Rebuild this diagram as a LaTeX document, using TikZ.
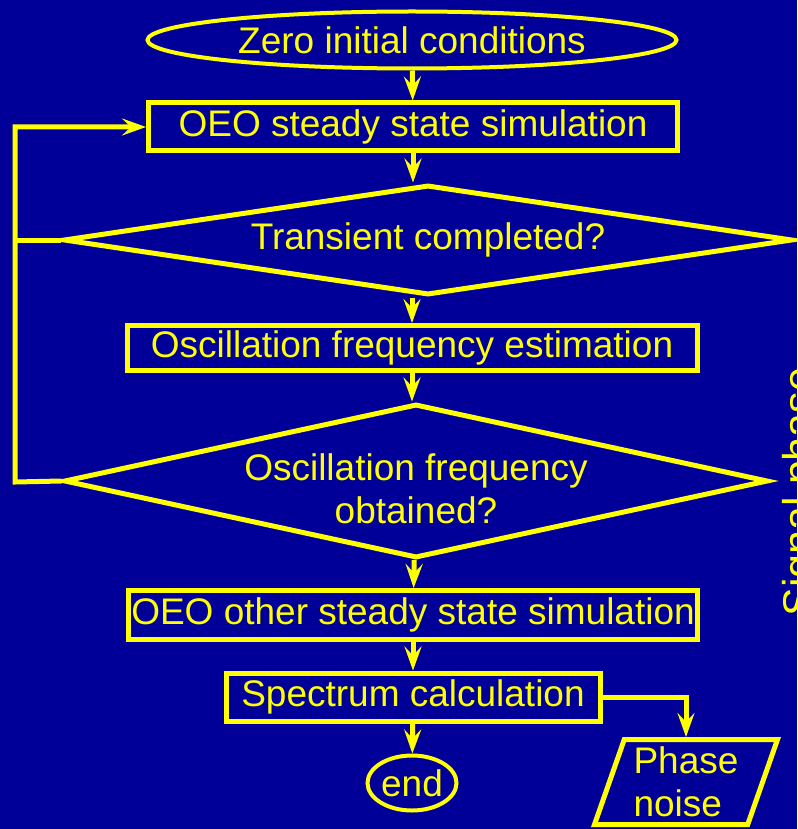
\documentclass[tikz,border=0pt]{standalone}
\usepackage{fontspec}
\setmainfont{Liberation Sans}
\usetikzlibrary{shapes.geometric, arrows.meta, positioning}
\definecolor{bgblue}{HTML}{000099}
\definecolor{ylw}{HTML}{FFFF00}

\begin{document}
\begin{tikzpicture}[x=1pt, y=-1pt, line width=5pt, color=ylw,
	font=\fontsize{37}{43}\selectfont,
	rbox/.style={draw, rectangle, inner sep=0pt},
	ovl/.style={draw, ellipse, inner sep=0pt, line width=4pt},
	dmnd/.style={draw, diamond, inner sep=0pt},
	para/.style={draw, trapezium, trapezium left angle=67,
		trapezium right angle=113, trapezium stretches body=true,
		inner sep=0pt, align=left},
	arr/.style={-{Stealth[length=24pt, width=17pt, inset=9pt]}}]
	\useasboundingbox (0,0) rectangle (797,829);
	\fill[bgblue] (0,0) rectangle (797,829);
	\clip (0,0) rectangle (797,829);
	\node[ovl, minimum width=529, minimum height=57] (0) at (412,40) {Zero initial conditions};
	\node[rbox, minimum width=529, minimum height=48] (1) at (413,127) {OEO steady state simulation};
	\node[dmnd, aspect=6.6, minimum width=729, minimum height=110,
		label={center:Transient completed?}] (2) at (428,240) {};
	\node[rbox, minimum width=570, minimum height=45] (3) at (412,348) {Oscillation frequency estimation};
	\node[dmnd, aspect=4.6, minimum width=704, minimum height=154,
		label={[align=center, yshift=-8pt]center:Oscillation frequency\\obtained?}] (4) at (416,481) {};
	\node[rbox, minimum width=569, minimum height=49] (5) at (413,615) {OEO other steady state simulation};
	\node[rbox, minimum width=374, minimum height=48] (6) at (413,697) {Spectrum calculation};
	\node[ovl, minimum width=89, minimum height=55] (7) at (412,783) {end};
	\node[para, minimum width=183, minimum height=85] (8) at (686,782) {Phase\\noise};
	\node[rotate=90, anchor=north, inner sep=0pt,
		font=\fontsize{43}{50}\selectfont] (9) at (780,492) {Signal phase};
	\coordinate (10) at (15,482);
	\draw[arr] (0) -- (1);
	\draw[arr] (1) -- (1.south |- 2.north);
	\draw[arr] (2.south -| 3.north) -- (3);
	\draw[arr] (3) -- (3.south |- 4.north);
	\draw[arr] (4) -- (5);
	\draw[arr] (5) -- (6);
	\draw[arr] (6) -- (7);
	\draw[arr] (6.east) -| (8);
	\draw (2.west) -- (2.west -| 10);
	\draw[arr] (4.west) -- (10) |- (1.west);
\end{tikzpicture}
\end{document}
